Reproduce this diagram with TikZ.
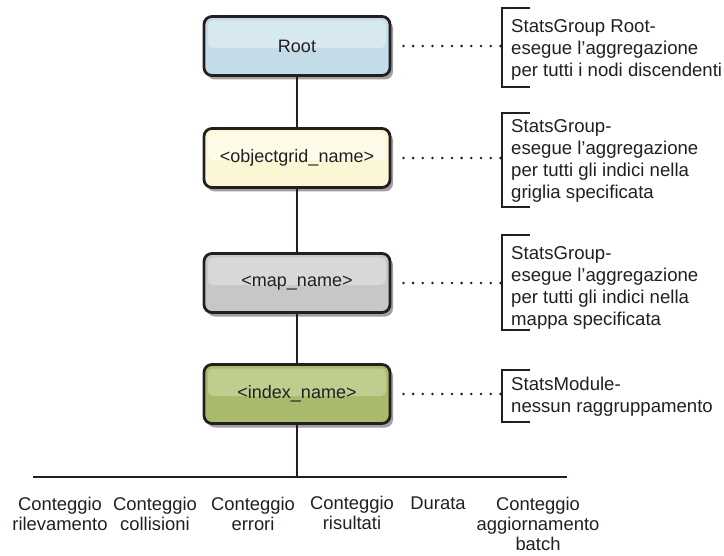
\documentclass[tikz,border=0pt]{standalone}
\usepackage{fontspec}
\setmainfont{Liberation Sans}
\usetikzlibrary{shadows}

\definecolor{rootfill}{RGB}{196,219,232}
\definecolor{rootlight}{RGB}{215,232,241}
\definecolor{gridfill}{RGB}{251,247,212}
\definecolor{gridlight}{RGB}{254,252,232}
\definecolor{mapfill}{RGB}{199,199,199}
\definecolor{maplight}{RGB}{216,216,216}
\definecolor{idxfill}{RGB}{168,186,108}
\definecolor{idxlight}{RGB}{190,206,142}
\definecolor{shadowgray}{RGB}{160,160,160}
\definecolor{ink}{RGB}{35,31,32}

\tikzset{
  levelbox/.style 2 args={
    draw=ink, line width=2.8bp, rounded corners=8bp,
    fill=#1, minimum width=186bp, minimum height=59bp,
    font=\fontsize{18bp}{21bp}\selectfont, text=ink,
    drop shadow={shadow xshift=3bp, shadow yshift=-4bp, fill=shadowgray, opacity=1},
    path picture={
      \fill[#2, rounded corners=5bp]
        ([shift={(4bp,-4bp)}]path picture bounding box.north west)
        rectangle ([shift={(-4bp,-2bp)}]path picture bounding box.east);
    }
  },
  trunk/.style={draw=ink, line width=2.5bp},
  dotline/.style={draw=ink, line width=2.8bp, line cap=round, dash pattern=on 0bp off 9.7bp},
  bracket/.style={draw=ink, line width=2.5bp},
  note/.style={anchor=west, align=left, inner sep=0pt, text=ink,
    font=\fontsize{18.6bp}{21.8bp}\selectfont},
  metric/.style={anchor=north, align=center, inner sep=0pt, text=ink,
    font=\fontsize{18.4bp}{20bp}\selectfont}
}

\begin{document}
\begin{tikzpicture}[x=1bp, y=-1bp]
\useasboundingbox (0,0) rectangle (724,556);

% bus line where the statistics hang
\coordinate (hub) at (297,477);
\coordinate (busL) at (33,477);
\coordinate (busR) at (567,477);

% hierarchy boxes
\node[levelbox={rootfill}{rootlight}] (root) at (297,46) {Root};
\node[levelbox={gridfill}{gridlight}] (grid) at (297,158) {<objectgrid\_name>};
\node[levelbox={mapfill}{maplight}] (map) at (297,283) {<map\_name>};
\node[levelbox={idxfill}{idxlight}] (idx) at (297,394) {<index\_name>};

% trunk between the levels
\draw[trunk] (root.south) -- (grid.north);
\draw[trunk] (grid.south) -- (map.north);
\draw[trunk] (map.south) -- (idx.north);
\draw[trunk] (idx.south) -- (hub);
\draw[trunk] (busL) -- (busR);

% bracket corners of the notes
\coordinate (b1t) at (502,8);   \coordinate (b1b) at (502,87);
\coordinate (b2t) at (502,113); \coordinate (b2b) at (502,207);
\coordinate (b3t) at (502,235); \coordinate (b3b) at (502,330);
\coordinate (b4t) at (502,370); \coordinate (b4b) at (502,422);

\foreach \b in {1,2,3,4}{
  \draw[bracket] ([xshift=28bp]b\b t) -- (b\b t) -- (b\b b) -- ([xshift=28bp]b\b b);
}

% dotted leaders from boxes to notes
\draw[dotline] ([xshift=12bp]root.east) -- (root.east -| b1t);
\draw[dotline] ([xshift=12bp]grid.east) -- (grid.east -| b2t);
\draw[dotline] ([xshift=12bp]map.east) -- (map.east -| b3t);
\draw[dotline] ([xshift=12bp]idx.east) -- (idx.east -| b4t);

% notes
\node[note] (n1) at (511,50) {StatsGroup Root-\\esegue l’aggregazione\\per tutti i nodi discendenti};
\node[note] (n2) at (511,161) {StatsGroup-\\esegue l’aggregazione\\per tutti gli indici nella\\griglia specificata};
\node[note] (n3) at (511,288) {StatsGroup-\\esegue l’aggregazione\\per tutti gli indici nella\\mappa specificata};
\node[note] (n4) at (511,397) {StatsModule-\\nessun raggruppamento};

% statistics
\node[metric] (m1) at (60,497) {Conteggio\\rilevamento};
\node[metric] (m2) at (155,497) {Conteggio\\collisioni};
\node[metric] (m3) at (253,497) {Conteggio\\errori};
\node[metric] (m4) at (352,496) {Conteggio\\risultati};
\node[metric] (m5) at (438,497) {Durata};
\node[metric] (m6) at (538,497) {Conteggio\\aggiornamento\\batch};
\end{tikzpicture}
\end{document}
